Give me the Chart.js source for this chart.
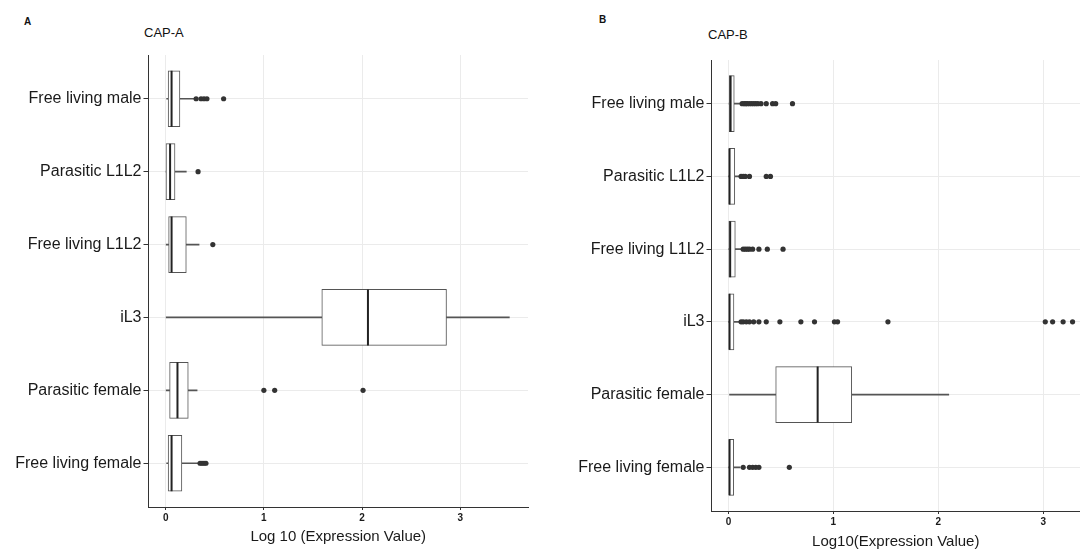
<!DOCTYPE html>
<html>
<head>
<meta charset="utf-8">
<script src="https://cdn.jsdelivr.net/npm/chart.js@4"></script>
<style>
  body { margin: 0; width: 1080px; height: 550px; overflow: hidden; background: #fff; font-family: "Liberation Sans", Arial, sans-serif; }
  canvas { position: absolute; top: 0; }
  .lbl { position: absolute; color: #111; line-height: 1; }
</style>
</head>
<body>
<div class="lbl" style="left:24px; top:17px; font-size:10px; font-weight:bold;">A</div>
<div class="lbl" style="left:144px; top:26px; font-size:13px;">CAP-A</div>
<div class="lbl" style="left:599px; top:15px; font-size:10px; font-weight:bold;">B</div>
<div class="lbl" style="left:708px; top:28px; font-size:13px;">CAP-B</div>
<canvas id="chartA" width="540" height="550" style="left:0px"></canvas>
<canvas id="chartB" width="540" height="550" style="left:540px"></canvas>
<script>
let categories = ['Free living male', 'Parasitic L1L2', 'Free living L1L2', 'iL3', 'Parasitic female', 'Free living female'];
let xTicks = [0, 1, 2, 3];

// CAP-A box stats (log10 expression)
let capAMin = [0.01, 0.0, 0.0, 0.0, 0.0, 0.01];
let capAQ1 = [0.025, 0.003, 0.03, 1.59, 0.04, 0.025];
let capAMedian = [0.06, 0.045, 0.06, 2.06, 0.12, 0.06];
let capAQ3 = [0.145, 0.095, 0.21, 2.86, 0.23, 0.165];
let capAMax = [0.29, 0.21, 0.34, 3.5, 0.32, 0.33];
let capAOutliers = [
    [0.31, 0.36, 0.39, 0.42, 0.59],
    [0.33],
    [0.48],
    [],
    [1.0, 1.11, 2.01],
    [0.35, 0.37, 0.39, 0.41]
];

// CAP-B box stats
let capBMin = [0.0, 0.0, 0.0, 0.0, 0.01, 0.0];
let capBQ1 = [0.007, 0.0, 0.003, 0.0, 0.45, 0.0];
let capBMedian = [0.02, 0.01, 0.016, 0.01, 0.85, 0.01];
let capBQ3 = [0.055, 0.06, 0.065, 0.052, 1.175, 0.05];
let capBMax = [0.12, 0.11, 0.12, 0.1, 2.1, 0.11];
let capBOutliers = [
    [0.13, 0.15, 0.165, 0.18, 0.2, 0.22, 0.24, 0.26, 0.28, 0.31, 0.36, 0.42, 0.45, 0.61],
    [0.12, 0.14, 0.16, 0.2, 0.36, 0.4],
    [0.14, 0.16, 0.18, 0.2, 0.23, 0.29, 0.37, 0.52],
    [0.12, 0.14, 0.17, 0.2, 0.24, 0.29, 0.36, 0.49, 0.69, 0.82, 1.01, 1.04, 1.52, 3.02, 3.09, 3.19, 3.28],
    [],
    [0.14, 0.2, 0.23, 0.26, 0.29, 0.58]
];

const textColor = '#1a1a1a';
const boxHeight = 56;

function boxChart(id, stats, cfg) {
    const ctx = document.getElementById(id).getContext('2d');
    const points = [];
    stats.outliers.forEach((list, i) => list.forEach(v => points.push({x: v, y: i})));

    return new Chart(ctx, {
        type: 'bar',
        data: {
            datasets: [{
                type: 'scatter',
                data: points,
                pointRadius: 2.6,
                pointBackgroundColor: '#333',
                pointBorderWidth: 0
            }, {
                type: 'scatter',
                data: stats.median.map((v, i) => ({x: v, y: i})),
                pointStyle: 'line',
                pointRadius: boxHeight / 2,
                pointRotation: 90,
                pointBorderColor: '#222',
                pointBorderWidth: 2
            }, {
                indexAxis: 'y',
                grouped: false,
                data: stats.q1.map((v, i) => ({y: i, x: [v, stats.q3[i]]})),
                barThickness: boxHeight,
                backgroundColor: '#fff',
                borderColor: '#555',
                borderWidth: 1,
                borderSkipped: false
            }, {
                indexAxis: 'y',
                grouped: false,
                data: stats.min.map((v, i) => ({y: i, x: [v, stats.q1[i]]})),
                barThickness: 1,
                backgroundColor: '#555'
            }, {
                indexAxis: 'y',
                grouped: false,
                data: stats.q3.map((v, i) => ({y: i, x: [v, stats.max[i]]})),
                barThickness: 1,
                backgroundColor: '#555'
            }]
        },
        options: {
            responsive: false,
            animation: false,
            events: [],
            layout: {padding: cfg.padding, autoPadding: false},
            plugins: {legend: {display: false}, tooltip: {enabled: false}},
            scales: {
                x: {
                    type: 'linear',
                    offset: false,
                    min: cfg.xMin,
                    max: cfg.xMax,
                    afterBuildTicks: axis => { axis.ticks = xTicks.map(v => ({value: v})); },
                    afterFit: axis => {
                        axis.height = cfg.xHeight;
                        axis.paddingLeft = 0;
                        axis.paddingRight = 0;
                    },
                    grid: {offset: false, color: '#ebebeb', tickColor: '#333', tickLength: 3},
                    border: {color: '#333', width: 1},
                    ticks: {color: textColor, padding: 2, font: {family: 'Liberation Sans', size: 10, weight: 'bold'}},
                    title: {
                        display: true,
                        text: cfg.xTitle,
                        color: textColor,
                        padding: cfg.titlePad,
                        font: {family: 'Liberation Sans', size: 15}
                    }
                },
                y: {
                    type: 'linear',
                    offset: false,
                    reverse: true,
                    min: -0.6,
                    max: categories.length - 0.4,
                    afterBuildTicks: axis => { axis.ticks = categories.map((c, i) => ({value: i})); },
                    afterFit: axis => {
                        axis.width = cfg.yWidth;
                        axis.paddingTop = 0;
                        axis.paddingBottom = 0;
                    },
                    grid: {offset: false, color: '#ebebeb', tickColor: '#333', tickLength: 5},
                    border: {color: '#333', width: 1},
                    ticks: {
                        color: textColor,
                        padding: 2,
                        font: {family: 'Liberation Sans', size: 16},
                        callback: v => categories[v]
                    }
                }
            }
        }
    });
}

boxChart('chartA', {
    min: capAMin, q1: capAQ1, median: capAMedian, q3: capAQ3, max: capAMax, outliers: capAOutliers
}, {
    xMin: -0.175, xMax: 3.69, yWidth: 148.5, xHeight: 43,
    padding: {left: 0, top: 55, right: 12, bottom: 0},
    xTitle: 'Log 10 (Expression Value)', titlePad: 4
});

boxChart('chartB', {
    min: capBMin, q1: capBQ1, median: capBMedian, q3: capBQ3, max: capBMax, outliers: capBOutliers
}, {
    xMin: -0.162, xMax: 3.351, yWidth: 171.5, xHeight: 39,
    padding: {left: 0, top: 60, right: 0, bottom: 0},
    xTitle: 'Log10(Expression Value)', titlePad: -1
});
</script>
</body>
</html>
